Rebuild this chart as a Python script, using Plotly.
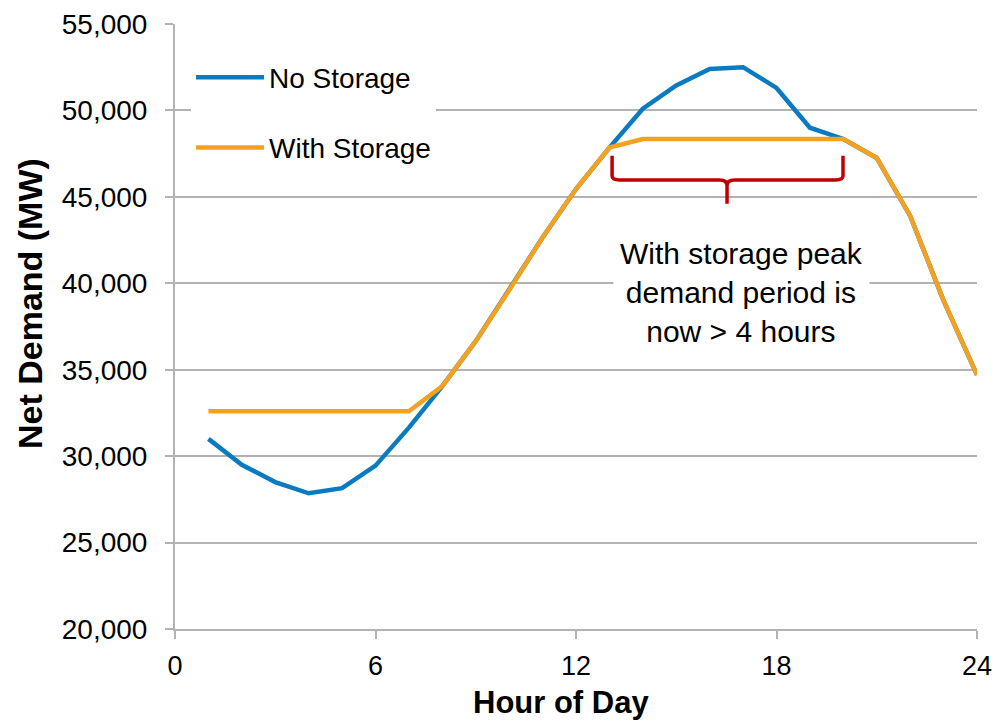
import plotly.graph_objects as go

hours = list(range(1, 25))
no_storage = [31000, 29500, 28500, 27850, 28150, 29450, 31650, 34050, 36650, 39600,
              42650, 45450, 47850, 50100, 51450, 52400, 52500, 51300, 49000, 48350,
              47250, 43900, 39000, 34700]
with_storage = [32600, 32600, 32600, 32600, 32600, 32600, 32600, 34050, 36650, 39600,
                42650, 45450, 47850, 48350, 48350, 48350, 48350, 48350, 48350, 48350,
                47250, 43900, 39000, 34700]
series_names = ["No Storage", "With Storage"]
x_ticks = [0, 6, 12, 18, 24]
y_ticks = [20000, 25000, 30000, 35000, 40000, 45000, 50000, 55000]
note_text = "With storage peak<br>demand period is<br>now > 4 hours"
x_title = "<b>Hour of Day</b>"
y_title = "<b>Net Demand (MW)</b>"

BLUE = "#0B7BC1"
ORANGE = "#F4A11F"
RED = "#C00000"
GRID = "#B3B3B3"
FONT = "Liberation Sans, Arial, sans-serif"

fig = go.Figure()
fig.add_trace(go.Scatter(x=hours, y=no_storage, mode="lines", name=series_names[0],
                         line=dict(color=BLUE, width=4.5), legendgroup="a"))
fig.add_trace(go.Scatter(x=hours, y=with_storage, mode="lines", name=series_names[1],
                         line=dict(color=ORANGE, width=4.5), legendgroup="b"))

# curly bracket marking the flattened peak
bracket = ("M 13.08,47380 L 13.08,46200 Q 13.08,45975 13.3,45975 "
           "L 16.3,45975 Q 16.52,45975 16.52,45650 L 16.52,44600 "
           "M 16.52,45650 Q 16.52,45975 16.74,45975 L 19.77,45975 "
           "Q 19.99,45975 19.99,46200 L 19.99,47380")
fig.add_shape(type="path", path=bracket, xref="x", yref="y",
              line=dict(color=RED, width=3.5))

fig.add_annotation(x=16.94, y=39440, xref="x", yref="y", text=note_text,
                   showarrow=False, bgcolor="white", borderpad=6,
                   font=dict(family=FONT, size=30, color="#000000"),
                   align="center", yanchor="middle", xanchor="center")

# axis titles (placed as in the reference, slightly off-centre)
fig.add_annotation(x=-0.1808, y=0.5388, xref="paper", yref="paper", text=y_title,
                   textangle=-90, showarrow=False, xanchor="center", yanchor="middle",
                   font=dict(family=FONT, size=34, color="#000000"))
fig.add_annotation(x=0.4813, y=-0.1223, xref="paper", yref="paper", text=x_title,
                   showarrow=False, xanchor="center", yanchor="middle",
                   font=dict(family=FONT, size=31, color="#000000"))

fig.update_layout(
    width=996, height=728,
    margin=dict(l=175, r=19, t=24, b=99),
    paper_bgcolor="white", plot_bgcolor="white",
    font=dict(family=FONT, size=26, color="#000000"),
    showlegend=True,
    legend=dict(x=0.02, y=0.953, xanchor="left", yanchor="top",
                bgcolor="white", font=dict(family=FONT, size=28),
                traceorder="grouped", tracegroupgap=31,
                itemwidth=68),
    xaxis=dict(range=[0, 24], tickvals=x_ticks, showgrid=False,
               showline=True, linecolor=GRID, linewidth=2,
               ticks="outside", ticklen=8, tickcolor=GRID, tickwidth=2,
               tickfont=dict(family=FONT, size=27),
               ticklabelstandoff=4, ticklabeloverflow="allow",
               zeroline=False, automargin=False),
    yaxis=dict(range=[20000, 55000], tickvals=y_ticks, tickformat=",",
               showgrid=True, gridcolor=GRID, gridwidth=1.5,
               showline=True, linecolor=GRID, linewidth=2,
               ticks="outside", ticklen=8, tickcolor=GRID, tickwidth=2,
               tickfont=dict(family=FONT, size=28),
               ticklabelstandoff=12, ticklabeloverflow="allow",
               zeroline=False, automargin=False),
)

fig.write_html(
    "out.html",
    config={"displayModeBar": False},
    post_script="document.body.style.margin='0';document.body.style.overflow='hidden';",
)
